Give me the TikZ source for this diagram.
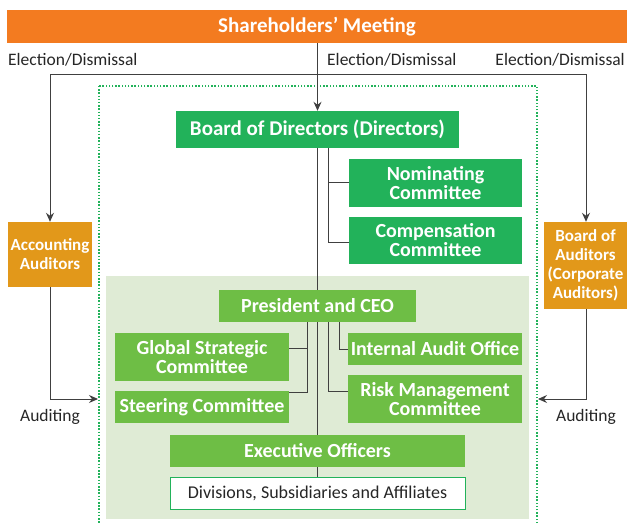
\documentclass[tikz,border=0pt]{standalone}
\usepackage{fontspec}
\setmainfont{Carlito}
\usetikzlibrary{arrows.meta}
\definecolor{meetorange}{RGB}{243,123,32}
\definecolor{boardgreen}{RGB}{34,178,90}
\definecolor{execgreen}{RGB}{110,190,69}
\definecolor{auditorange}{RGB}{226,152,26}
\definecolor{palegreen}{RGB}{223,235,213}

\begin{document}
\begin{tikzpicture}[x=1pt,y=-1pt]
    \tikzstyle{box}=[rectangle,inner sep=0,text=white,align=center,font=\fontsize{20}{19}\selectfont\bfseries]
    \tikzstyle{dgbox}=[box,fill=boardgreen]
    \tikzstyle{lgbox}=[box,fill=execgreen]
    \tikzstyle{aubox}=[box,fill=auditorange,font=\fontsize{17}{19}\selectfont\bfseries]
    \tikzstyle{lbl}=[inner sep=0,text=black!85,font=\fontsize{17.5}{20}\selectfont]
    \tikzstyle{link}=[draw=black!75,line width=1pt]
    \tikzstyle{arr}=[link,-{Stealth[length=9pt,width=8pt,inset=3pt]}]
    \useasboundingbox (0,0) rectangle (627,524);
    % areas
    \fill[palegreen] (106,276) rectangle (529,519);
    \draw[boardgreen,line width=1.3pt,dash pattern=on 1.5pt off 1.7pt] (99,86) rectangle (537,540);
    % boxes
    \path (317,26.5) node[box,fill=meetorange,minimum width=620pt,minimum height=33pt,font=\fontsize{21}{21}\selectfont\bfseries] (meeting) {Shareholders’ Meeting};
    \path (317.5,129.5) node[dgbox,minimum width=283pt,minimum height=37pt,font=\fontsize{21}{21}\selectfont\bfseries] (board) {Board of Directors (Directors)};
    \path (435.5,183) node[dgbox,minimum width=173pt,minimum height=48pt] (nominate) {Nominating\\Committee};
    \path (435.5,240.5) node[dgbox,minimum width=173pt,minimum height=47pt] (compensate) {Compensation\\Committee};
    \path (50,254.5) node[aubox,minimum width=84pt,minimum height=65pt] (accaudit) {Accounting\\Auditors};
    \path (585.5,265.5) node[aubox,minimum width=83pt,minimum height=87pt] (boaudit) {Board of\\Auditors\\(Corporate\\Auditors)};
    \path (317.5,306) node[lgbox,minimum width=197pt,minimum height=32pt] (ceo) {President and CEO};
    \path (202,357) node[lgbox,minimum width=174pt,minimum height=48pt] (strategic) {Global Strategic\\Committee};
    \path (202,407) node[lgbox,minimum width=174pt,minimum height=32pt] (steering) {Steering Committee};
    \path (435,349) node[lgbox,minimum width=174pt,minimum height=32pt] (intaudit) {Internal Audit Office};
    \path (435,399) node[lgbox,minimum width=174pt,minimum height=48pt] (risk) {Risk Management\\Committee};
    \path (317.5,451) node[lgbox,minimum width=295pt,minimum height=32pt] (officers) {Executive Officers};
    \path (317.5,493) node[box,fill=white,draw=boardgreen,line width=1pt,text=black!85,font=\fontsize{18}{20}\selectfont,minimum width=295pt,minimum height=32pt] (divisions) {Divisions, Subsidiaries and Affiliates};
    % labels
    \path (8,60) node[lbl,anchor=west] (elect1) {Election/Dismissal};
    \path (327,60) node[lbl,anchor=west] (elect2) {Election/Dismissal};
    \path (625,60) node[lbl,anchor=east] (elect3) {Election/Dismissal};
    \path (50,417) node[lbl] (audit1) {Auditing};
    \path (586,417) node[lbl] (audit2) {Auditing};
    % connectors
    \coordinate (frameL) at (50,75);
    \coordinate (frameR) at (586,75);
    \coordinate (auditL) at (98,399);
    \coordinate (auditR) at (538,399);
    \draw[arr] (meeting.south -| board.north) -- (board.north);
    \draw[arr] (frameL) -- (accaudit.north);
    \draw[arr] (frameL) -- (frameR) -- (frameR |- boaudit.north);
    \draw[arr] (accaudit.south) |- (auditL);
    \draw[arr] (boaudit.south -| frameR) |- (auditR);
    \draw[link] (board.south) -- (ceo.north);
    \draw[link] (ceo.south) -- (officers.north);
    \draw[link] (officers.south) -- (divisions.north);
    \draw[link] ([xshift=10.5pt]board.south) |- (nominate.west);
    \draw[link] ([xshift=10.5pt]board.south) |- ([yshift=-1.5pt]compensate.west);
    \draw[link] ([xshift=-10.5pt]ceo.south) |- ([yshift=9pt]strategic.east);
    \draw[link] ([xshift=-10.5pt]ceo.south) |- ([yshift=-2pt]steering.north east);
    \draw[link] ([xshift=21.5pt]ceo.south) |- (intaudit.west);
    \draw[link] ([xshift=10.5pt]ceo.south) |- ([yshift=8pt]risk.west);
\end{tikzpicture}
\end{document}
